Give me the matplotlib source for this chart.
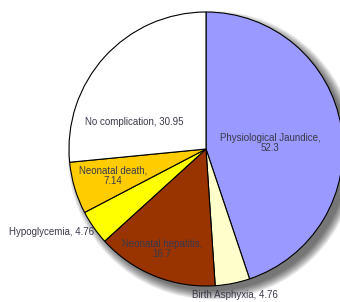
import matplotlib
matplotlib.use("Agg")
import matplotlib.pyplot as plt
from matplotlib.patches import Circle
import numpy as np

categories = ["Physiological Jaundice", "Birth Asphyxia", "Neonatal hepatitis",
              "Hypoglycemia", "Neonatal death", "No complication"]
values = [52.3, 4.76, 16.7, 4.76, 7.14, 30.95]
value_labels = ["52.3", "4.76", "16.7", "4.76", "7.14", "30.95"]
colors = ["#9999FF", "#FFFFCC", "#993300", "#FFFF00", "#FFCC00", "#FFFFFF"]

# label layout (data coords, pie radius = 1), alignment, line break
label_layout = [
    ((0.467, 0.044), "center", True),
    ((0.212, -1.066), "center", False),
    ((-0.321, -0.730), "center", True),
    ((-0.82, -0.606), "right", False),
    ((-0.679, -0.197), "center", True),
    ((-0.526, 0.197), "center", False),
]

plt.rcParams['font.family'] = ['Liberation Sans', 'DejaVu Sans']

fig = plt.figure(figsize=(3.40, 3.02), dpi=100)
ax = fig.add_axes([0, 0, 1, 1])

# soft drop shadow
for i in range(14):
    r = 0.99 + 0.005 * i
    ax.add_patch(Circle((0.045, -0.045), r, color="black", alpha=0.05, lw=0, zorder=0))

wedges, _ = ax.pie(values, colors=colors, startangle=90, counterclock=False,
                   radius=1.0, center=(0, 0),
                   wedgeprops=dict(edgecolor="black", linewidth=0.8),
                   frame=True)
ax.set_xlim(-206 / 137, 134 / 137)
ax.set_ylim(-153 / 137, 149 / 137)
ax.set_aspect("auto")
ax.axis("off")
for w in wedges:
    w.set_zorder(2)

for cat, vl, (pos, ha, brk) in zip(categories, value_labels, label_layout):
    txt = f"{cat},\n{vl}" if brk else f"{cat}, {vl}"
    ax.text(pos[0], pos[1], txt, ha=ha, va="center", fontsize=7.0,
            color="#3a3a4a", multialignment="center", linespacing=1.1, zorder=5)

fig.savefig("out.png", dpi=100)
